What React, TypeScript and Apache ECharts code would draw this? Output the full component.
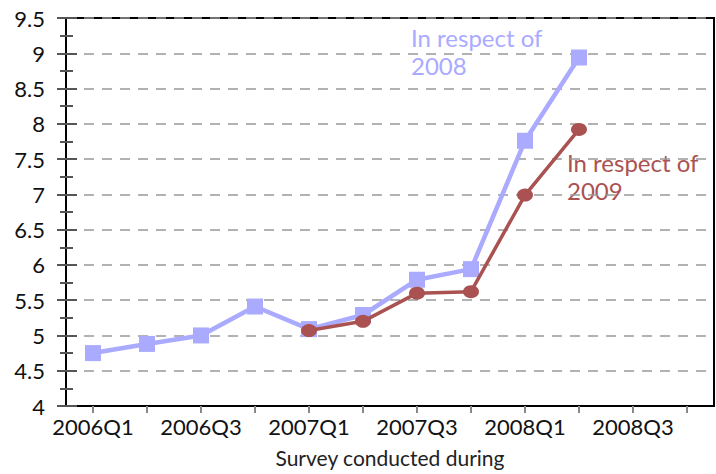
import React, { useEffect, useRef } from "react";
import * as echarts from "echarts";

const categories = [
  "2006Q1", "2006Q2", "2006Q3", "2006Q4",
  "2007Q1", "2007Q2", "2007Q3", "2007Q4",
  "2008Q1", "2008Q2", "2008Q3", "2008Q4",
];
const respect2008 = [4.75, 4.88, 5.0, 5.41, 5.09, 5.29, 5.79, 5.94, 7.76, 8.94, null, null];
const respect2009 = [null, null, null, null, 5.07, 5.2, 5.6, 5.62, 6.99, 7.92, null, null];
const yTicks = { min: 4, max: 9.5, interval: 0.5 };

const FONT = "Lato, 'Noto Sans', sans-serif";
const C2008 = "#aaaaff";
const C2009 = "#aa5252";

export default function App() {
  const ref = useRef<HTMLDivElement>(null);
  useEffect(() => {
    const chart = echarts.init(ref.current!, null, { renderer: "svg" });
    const yBase = {
      type: "value",
      min: yTicks.min,
      max: yTicks.max,
      interval: yTicks.interval,
      position: "left",
    };
    chart.setOption({
      animation: false,
      textStyle: { fontFamily: FONT },
      grid: {
        left: 66, right: 2, top: 18, bottom: 68,
        containLabel: false,
        outerBoundsMode: "none",
        show: true, borderColor: "#000", borderWidth: 2,
        backgroundColor: "transparent",
      },
      xAxis: {
        type: "category",
        data: categories,
        boundaryGap: true,
        axisLine: { show: true, lineStyle: { color: "#000", width: 2 } },
        axisTick: { show: true, alignWithLabel: true, interval: 0, length: 7, lineStyle: { color: "#888", width: 2 } },
        axisLabel: { interval: 1, color: "#111", fontSize: 22, fontFamily: FONT, margin: 9 },
        splitLine: { show: false },
        name: "Survey conducted during",
        nameLocation: "middle",
        nameGap: 41,
        nameTextStyle: { color: "#222", fontSize: 21, fontFamily: FONT },
      },
      yAxis: [
        {
          ...yBase,
          axisLine: { show: true, lineStyle: { color: "#000", width: 2 } },
          axisTick: { show: true, length: 9, lineStyle: { color: "#555", width: 2 } },
          minorTick: { show: true, splitNumber: 2, length: 6, lineStyle: { color: "#555", width: 2 } },
          axisLabel: { color: "#111", fontSize: 22, fontFamily: FONT, margin: 21 },
          splitLine: { show: true, lineStyle: { color: "#999", width: 1.5, type: [10, 8] } },
        },
        {
          ...yBase,
          axisLine: { show: false },
          axisTick: { show: true, inside: true, length: 11, lineStyle: { color: "#555", width: 2 } },
          minorTick: { show: true, splitNumber: 2, length: 7, lineStyle: { color: "#555", width: 2 } },
          axisLabel: { show: false },
          splitLine: { show: false },
        },
      ],
      series: [
        {
          name: "In respect of 2008",
          type: "line",
          data: respect2008,
          yAxisIndex: 0,
          symbol: "rect",
          symbolSize: 16,
          lineStyle: { color: C2008, width: 4.5 },
          itemStyle: { color: C2008 },
          z: 2,
        },
        {
          name: "In respect of 2009",
          type: "line",
          data: respect2009,
          yAxisIndex: 0,
          symbol: "circle",
          symbolSize: [16, 13],
          lineStyle: { color: C2009, width: 3.5 },
          itemStyle: { color: C2009 },
          z: 3,
        },
      ],
      graphic: [
        {
          type: "text", left: 411, top: 23,
          style: { text: "In respect of\n2008", fill: C2008, fontSize: 24, fontFamily: FONT, lineHeight: 28 },
        },
        {
          type: "text", left: 567, top: 148,
          style: { text: "In respect of\n2009", fill: C2009, fontSize: 24, fontFamily: FONT, lineHeight: 28 },
        },
      ],
    });
    return () => chart.dispose();
  }, []);
  return <div ref={ref} style={{ width: 716, height: 474, position: "absolute", left: 0, top: 0 }} />;
}
